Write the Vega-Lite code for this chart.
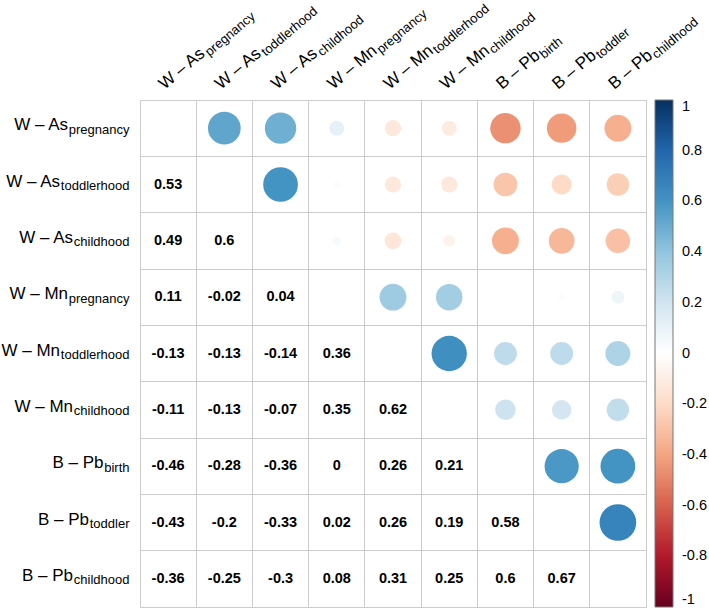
{
  "$schema": "https://vega.github.io/schema/vega-lite/v6.json",
  "width": 506,
  "height": 507,
  "autosize": {"type": "none"},
  "padding": {"left": 140, "top": 100, "right": 63, "bottom": 7},
  "background": "white",
  "config": {
    "view": {"stroke": "#cccccc", "strokeWidth": 1},
    "font": "Liberation Sans",
    "locale": {"number": {"decimal": ".", "thousands": ",", "grouping": [3], "currency": ["$", ""], "minus": "-"}}
  },
  "datasets": {
    "corr": [
      {"row": "AsT", "col": "AsP", "r": 0.53},
      {"row": "AsC", "col": "AsP", "r": 0.49},
      {"row": "AsC", "col": "AsT", "r": 0.6},
      {"row": "MnP", "col": "AsP", "r": 0.11},
      {"row": "MnP", "col": "AsT", "r": -0.02},
      {"row": "MnP", "col": "AsC", "r": 0.04},
      {"row": "MnT", "col": "AsP", "r": -0.13},
      {"row": "MnT", "col": "AsT", "r": -0.13},
      {"row": "MnT", "col": "AsC", "r": -0.14},
      {"row": "MnT", "col": "MnP", "r": 0.36},
      {"row": "MnC", "col": "AsP", "r": -0.11},
      {"row": "MnC", "col": "AsT", "r": -0.13},
      {"row": "MnC", "col": "AsC", "r": -0.07},
      {"row": "MnC", "col": "MnP", "r": 0.35},
      {"row": "MnC", "col": "MnT", "r": 0.62},
      {"row": "PbB", "col": "AsP", "r": -0.46},
      {"row": "PbB", "col": "AsT", "r": -0.28},
      {"row": "PbB", "col": "AsC", "r": -0.36},
      {"row": "PbB", "col": "MnP", "r": 0},
      {"row": "PbB", "col": "MnT", "r": 0.26},
      {"row": "PbB", "col": "MnC", "r": 0.21},
      {"row": "PbT", "col": "AsP", "r": -0.43},
      {"row": "PbT", "col": "AsT", "r": -0.2},
      {"row": "PbT", "col": "AsC", "r": -0.33},
      {"row": "PbT", "col": "MnP", "r": 0.02},
      {"row": "PbT", "col": "MnT", "r": 0.26},
      {"row": "PbT", "col": "MnC", "r": 0.19},
      {"row": "PbT", "col": "PbB", "r": 0.58},
      {"row": "PbC", "col": "AsP", "r": -0.36},
      {"row": "PbC", "col": "AsT", "r": -0.25},
      {"row": "PbC", "col": "AsC", "r": -0.3},
      {"row": "PbC", "col": "MnP", "r": 0.08},
      {"row": "PbC", "col": "MnT", "r": 0.31},
      {"row": "PbC", "col": "MnC", "r": 0.25},
      {"row": "PbC", "col": "PbB", "r": 0.6},
      {"row": "PbC", "col": "PbT", "r": 0.67}
    ],
    "labels": [
      {"id": "AsP", "main": "W – As", "sub": "pregnancy"},
      {"id": "AsT", "main": "W – As", "sub": "toddlerhood"},
      {"id": "AsC", "main": "W – As", "sub": "childhood"},
      {"id": "MnP", "main": "W – Mn", "sub": "pregnancy"},
      {"id": "MnT", "main": "W – Mn", "sub": "toddlerhood"},
      {"id": "MnC", "main": "W – Mn", "sub": "childhood"},
      {"id": "PbB", "main": "B – Pb", "sub": "birth"},
      {"id": "PbT", "main": "B – Pb", "sub": "toddler"},
      {"id": "PbC", "main": "B – Pb", "sub": "childhood"}
    ]
  },
  "layer": [
    {
      "data": {"name": "corr"},
      "mark": {"type": "point", "shape": "circle", "filled": true, "opacity": 1, "strokeWidth": 0},
      "encoding": {
        "x": {"field": "row", "type": "nominal",
          "scale": {"type": "band", "domain": ["AsP","AsT","AsC","MnP","MnT","MnC","PbB","PbT","PbC"], "paddingInner": 0, "paddingOuter": 0},
          "axis": {"title": null, "labels": false, "ticks": false, "domain": false, "grid": true, "gridColor": "#cccccc", "gridWidth": 1, "bandPosition": 0}},
        "y": {"field": "col", "type": "nominal",
          "scale": {"type": "band", "domain": ["AsP","AsT","AsC","MnP","MnT","MnC","PbB","PbT","PbC"], "paddingInner": 0, "paddingOuter": 0},
          "axis": {"title": null, "labels": false, "ticks": false, "domain": false, "grid": true, "gridColor": "#cccccc", "gridWidth": 1, "bandPosition": 0}},
        "color": {"field": "r", "type": "quantitative",
          "scale": {"domain": [-1, -0.8, -0.6, -0.4, -0.2, 0, 0.2, 0.4, 0.6, 0.8, 1],
            "range": ["#67001F", "#B2182B", "#D6604D", "#F4A582", "#FDDBC7", "#FFFFFF", "#D1E5F0", "#92C5DE", "#4393C3", "#2166AC", "#053061"],
            "interpolate": "rgb"},
          "legend": {"title": null, "type": "gradient", "direction": "vertical", "orient": "right", "offset": 9, "padding": 0,
            "gradientLength": 507, "gradientThickness": 18, "gradientStrokeColor": "#777777", "gradientStrokeWidth": 1,
            "values": [1, 0.8, 0.6, 0.4, 0.2, 0, -0.2, -0.4, -0.6, -0.8, -1],
            "format": "~g",
            "labelFontSize": 14.5, "labelColor": "#000000", "labelOffset": 9, "labelOverlap": false,
            "encode": {"labels": {"update": {"baseline": {"value": "middle"}}}}}},
        "size": {"field": "r", "type": "quantitative",
          "scale": {"domain": [-1, 0, 1], "range": [2011, 0, 2011]}, "legend": null}
      }
    },
    {
      "data": {"name": "corr"},
      "mark": {"type": "text", "fontSize": 14.5, "fontWeight": "bold", "color": "#000000", "align": "center", "baseline": "middle"},
      "encoding": {
        "x": {"field": "col", "type": "nominal",
          "scale": {"type": "band", "domain": ["AsP","AsT","AsC","MnP","MnT","MnC","PbB","PbT","PbC"], "paddingInner": 0, "paddingOuter": 0},
          "axis": {"title": null, "labels": false, "ticks": false, "domain": false, "grid": true, "gridColor": "#cccccc", "gridWidth": 1, "bandPosition": 0}},
        "y": {"field": "row", "type": "nominal",
          "scale": {"type": "band", "domain": ["AsP","AsT","AsC","MnP","MnT","MnC","PbB","PbT","PbC"], "paddingInner": 0, "paddingOuter": 0},
          "axis": {"title": null, "labels": false, "ticks": false, "domain": false, "grid": true, "gridColor": "#cccccc", "gridWidth": 1, "bandPosition": 0}},
        "text": {"field": "r", "type": "nominal"}
      }
    },
    {
      "data": {"name": "labels"},
      "mark": {"type": "text", "fontSize": 17, "color": "#000000", "align": "right", "baseline": "alphabetic", "dy": 2,
        "dx": {"expr": "datum.sub === 'pregnancy' ? -61.5 : datum.sub === 'toddlerhood' ? -69.5 : datum.sub === 'childhood' ? -56.5 : datum.sub === 'birth' ? -26 : -40.5"}},
      "encoding": {
        "y": {"field": "id", "type": "nominal",
          "scale": {"type": "band", "domain": ["AsP","AsT","AsC","MnP","MnT","MnC","PbB","PbT","PbC"], "paddingInner": 0, "paddingOuter": 0},
          "axis": {"title": null, "labels": false, "ticks": false, "domain": false, "grid": true, "gridColor": "#cccccc", "gridWidth": 1, "bandPosition": 0}},
        "x": {"value": -10.5},
        "text": {"field": "main"}
      }
    },
    {
      "data": {"name": "labels"},
      "mark": {"type": "text", "fontSize": 13, "color": "#000000", "align": "right", "baseline": "alphabetic", "dy": 5.5},
      "encoding": {
        "y": {"field": "id", "type": "nominal",
          "scale": {"type": "band", "domain": ["AsP","AsT","AsC","MnP","MnT","MnC","PbB","PbT","PbC"], "paddingInner": 0, "paddingOuter": 0},
          "axis": {"title": null, "labels": false, "ticks": false, "domain": false, "grid": true, "gridColor": "#cccccc", "gridWidth": 1, "bandPosition": 0}},
        "x": {"value": -10.5},
        "text": {"field": "sub"}
      }
    },
    {
      "data": {"name": "labels"},
      "mark": {"type": "text", "fontSize": 17, "color": "#000000", "align": "left", "baseline": "alphabetic", "angle": 320, "dx": -2.7, "dy": -2.3},
      "encoding": {
        "x": {"field": "id", "type": "nominal",
          "scale": {"type": "band", "domain": ["AsP","AsT","AsC","MnP","MnT","MnC","PbB","PbT","PbC"], "paddingInner": 0, "paddingOuter": 0},
          "axis": {"title": null, "labels": false, "ticks": false, "domain": false, "grid": true, "gridColor": "#cccccc", "gridWidth": 1, "bandPosition": 0}},
        "y": {"value": -10},
        "text": {"field": "main"}
      }
    },
    {
      "data": {"name": "labels"},
      "mark": {"type": "text", "fontSize": 13, "color": "#000000", "align": "left", "baseline": "alphabetic", "angle": 320, "dy": 1.2,
        "dx": {"expr": "datum.main === 'W – Mn' ? 56.9 : datum.main === 'B – Pb' ? 49.3 : 53.1"}},
      "encoding": {
        "x": {"field": "id", "type": "nominal",
          "scale": {"type": "band", "domain": ["AsP","AsT","AsC","MnP","MnT","MnC","PbB","PbT","PbC"], "paddingInner": 0, "paddingOuter": 0},
          "axis": {"title": null, "labels": false, "ticks": false, "domain": false, "grid": true, "gridColor": "#cccccc", "gridWidth": 1, "bandPosition": 0}},
        "y": {"value": -10},
        "text": {"field": "sub"}
      }
    }
  ]
}
